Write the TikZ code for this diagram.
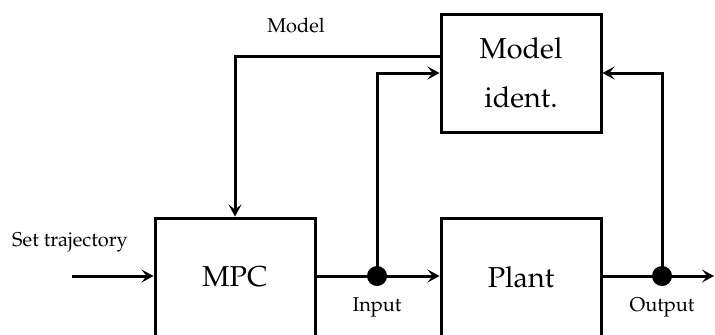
\documentclass[tikz,border=0pt]{standalone}
\usepackage[T1]{fontenc}
\usepackage{mathpazo}
\usetikzlibrary{arrows.meta}
\tikzset{
  blk/.style={draw, line width=1.5pt, minimum width=80pt, minimum height=59pt, inner sep=0pt, font=\Large, align=center},
  conn/.style={line width=1.5pt, -{Stealth[length=6pt,width=6.5pt,inset=2.5pt]}},
  plain/.style={line width=1.5pt},
  lbl/.style={font=\normalsize, inner sep=0pt},
  dotn/.style={circle, fill=black, minimum size=10pt, inner sep=0pt},
}
\begin{document}
\begin{tikzpicture}[x=0.5pt, y=-0.5pt]
\useasboundingbox (0,0) rectangle (715,334);
\clip (0,0) rectangle (715,334);
\node[blk] (mpc) at (235,277) {MPC};
\node[blk] (plant) at (521,277) {Plant};
\node[blk] (mid) at (521,73) {Model\\[6.5pt]ident.};
\node[dotn] (din) at (377,276) {};
\node[dotn] (dout) at (662,276) {};
\coordinate (start) at (72,276);
\coordinate (end) at (714,276);
\node[lbl] (lset) at (70,242) {Set trajectory};
\node[lbl] (lmodel) at (296,25) {Model};
\node[lbl] (lin) at (377,307) {Input};
\node[lbl] (lout) at (662,307) {Output};
\draw[conn] (start) -- (start -| mpc.west);
\draw[plain] (din.center -| mpc.east) -- (din.center);
\draw[conn] (din.center) -- (din.center -| plant.west);
\draw[plain] (dout.center -| plant.east) -- (dout.center);
\draw[conn] (dout.center) -- (end);
\draw[conn] (din.center) |- (mid.west);
\draw[conn] (dout.center) |- (mid.east);
\draw[conn] ([yshift=8.5pt]mid.west) -| (mpc.north);
\end{tikzpicture}
\end{document}
